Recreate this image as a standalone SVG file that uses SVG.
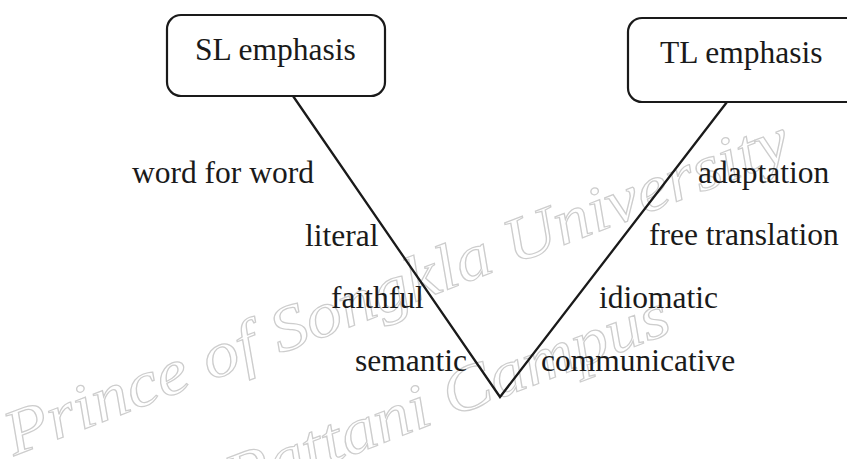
<svg xmlns="http://www.w3.org/2000/svg" width="847" height="459" viewBox="0 0 847 459">
  <style>
    .lbl { font-family: "Liberation Serif", "Times New Roman", serif; font-size: 31.5px; fill: #1a1a1a; }
    .box { fill: #ffffff; stroke: #1a1a1a; stroke-width: 2.2; }
    .wm { font-family: "Liberation Serif", "DejaVu Serif", serif; font-style: italic; font-size: 64px; fill: #ffffff; stroke: #cdcdcd; stroke-width: 1.2; }
    .conn { fill: none; stroke: #1a1a1a; stroke-width: 2.3; stroke-linejoin: miter; }
  </style>
  <rect x="0" y="0" width="847" height="459" fill="#ffffff"/>
  <g id="watermark">
    <text class="wm" x="14" y="456" transform="rotate(-21 14 456)" textLength="835" lengthAdjust="spacingAndGlyphs">Prince of Songkla University</text>
    <text class="wm" x="235" y="500" transform="rotate(-21 235 500)" textLength="470" lengthAdjust="spacingAndGlyphs">Pattani Campus</text>
  </g>
  <g id="connectors">
    <path class="conn" d="M293,96 L500,397 L727,102"/>
  </g>
  <g id="sl-emphasis">
    <rect class="box" x="167" y="15" width="218" height="81" rx="14" ry="14"/>
    <text class="lbl" x="195" y="60">SL emphasis</text>
  </g>
  <g id="tl-emphasis">
    <rect class="box" x="628" y="18" width="240" height="84" rx="14" ry="14"/>
    <text class="lbl" x="660" y="63">TL emphasis</text>
  </g>
  <g id="labels-sl">
    <text class="lbl" x="132" y="183">word for word</text>
    <text class="lbl" x="305" y="246">literal</text>
    <text class="lbl" x="331" y="308">faithful</text>
    <text class="lbl" x="355" y="371">semantic</text>
  </g>
  <g id="labels-tl">
    <text class="lbl" x="698" y="183">adaptation</text>
    <text class="lbl" x="649" y="245">free translation</text>
    <text class="lbl" x="599" y="308">idiomatic</text>
    <text class="lbl" x="541" y="371">communicative</text>
  </g>
</svg>
